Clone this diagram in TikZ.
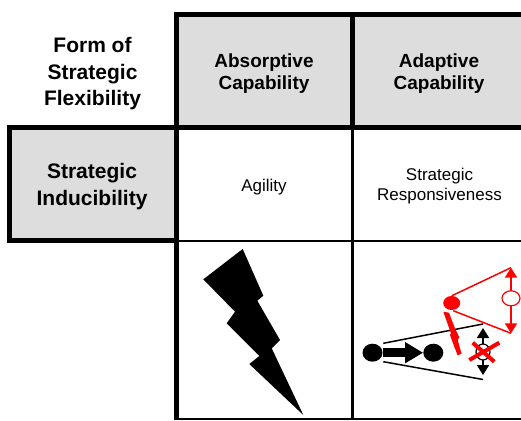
\documentclass[tikz,border=0pt]{standalone}
\usepackage{fontspec}
\setmainfont{Liberation Sans}
\usetikzlibrary{shapes.geometric,arrows.meta,calc}
\definecolor{cellgray}{RGB}{221,221,221}
\definecolor{alert}{RGB}{255,0,0}
\begin{document}
\begin{tikzpicture}[x=1pt,y=-1pt,
  heavyrule/.style={line width=5pt},
  lightrule/.style={line width=2.5pt},
  sidehead/.style={font=\fontsize{21}{26.5}\selectfont\bfseries, align=center},
  colhead/.style={font=\fontsize{19}{21.5}\selectfont\bfseries, align=center},
  celltext/.style={font=\fontsize{17}{20.5}\selectfont, align=center},
  blackdot/.style={ellipse, fill=black, minimum width=20pt, minimum height=18pt, inner sep=0pt},
  reddot/.style={ellipse, fill=alert, minimum width=17pt, minimum height=14pt, inner sep=0pt},
  ring/.style={ellipse, fill=white, draw, line width=1.2pt, inner sep=0pt},
  updown/.style={line width=2pt, {Triangle[length=10pt,width=12pt]}-{Triangle[length=10pt,width=12pt]}},
  wedge/.style={line width=1.5pt},
  cross/.style={line width=4pt, alert},
]
\useasboundingbox (0,0) rectangle (521,420);

% shaded heading cells
\fill[cellgray] (176,15) rectangle (521,127.5);
\fill[cellgray] (9.5,127.5) rectangle (176,240.5);

% table rules
\draw[heavyrule] (521,15) -- (176,15) -- (176,420);
\draw[heavyrule] (521,127.5) -- (9.5,127.5) -- (9.5,240.5) -- (176,240.5);
\draw[heavyrule] (352.5,15) -- (352.5,127.5);
\draw[lightrule] (352.5,127.5) -- (352.5,420);
\draw[lightrule] (176,241) -- (521,241);
\draw[line width=2pt] (176,418.5) -- (521,418.5);

% headings and cell texts
\node[sidehead] (form) at (92.5,74) {Form of\\Strategic\\Flexibility};
\node[sidehead] (induc) at (92,186.5) {Strategic\\Inducibility};
\node[colhead] (absorb) at (264,73.8) {Absorptive\\Capability};
\node[colhead] (adapt) at (439,73.8) {Adaptive\\Capability};
\node[celltext] (agility) at (264,187) {Agility};
\node[celltext] (respond) at (439.5,186) {Strategic\\Responsiveness};

% lightning bolt
\fill[black] (242.7,249) -- (263.3,295.7) -- (257.3,300.7) -- (280,340)
  -- (271.7,348.3) -- (303.3,415) -- (249.3,364) -- (259.3,356)
  -- (226.7,323.3) -- (235,311.7) -- (203.3,279.3) -- cycle;

% responsiveness sketch: black part
\node[blackdot] (dotA) at (372.5,352.7) {};
\node[blackdot] (dotB) at (433.3,352.7) {};
\coordinate (wAu) at (383.3,343.3);
\coordinate (wAl) at (383.3,361.7);
\coordinate (wU) at (483,324);
\coordinate (wL) at (483,379.5);
\draw[wedge] (wAu) -- (wU);
\draw[wedge] (wAl) -- (wL);
\draw[line width=9pt, -{Triangle[length=18pt,width=20pt]}] (dotA) -- (dotB);
\coordinate (bTop) at (483,328);
\coordinate (bBot) at (483,375);
\draw[updown] (bTop) -- (bBot);
\node[ring, minimum width=14pt, minimum height=16pt] (ringB) at (483,352) {};

% responsiveness sketch: red part
\node[reddot] (dotR) at (451.7,303) {};
\coordinate (rTop) at (511,267.7);
\coordinate (rBot) at (511,333.3);
\draw[wedge, alert] (dotR.north) -- (rTop);
\draw[wedge, alert] ($(dotR.south)+(1.5,0.5)$) -- (rBot);
\draw[updown, alert] (rTop) -- (rBot);
\node[ring, draw=alert, minimum width=18pt, minimum height=15pt] (ringR) at (511,298.3) {};
\fill[alert] (443.3,311.7) -- (449,312.7) -- (454.3,326.7) -- (459.3,337.3)
  -- (457.7,340) -- (461.5,353.5) -- (457.7,355.5) -- (454,346)
  -- (450,335) -- (451,333.3) -- cycle;
\coordinate (xa1) at (469.3,360);
\coordinate (xb1) at (499.3,342.7);
\coordinate (xa2) at (472.7,342.7);
\coordinate (xb2) at (494.3,361.7);
\draw[cross] (xa1) -- (xb1);
\draw[cross] (xa2) -- (xb2);
\end{tikzpicture}
\end{document}
